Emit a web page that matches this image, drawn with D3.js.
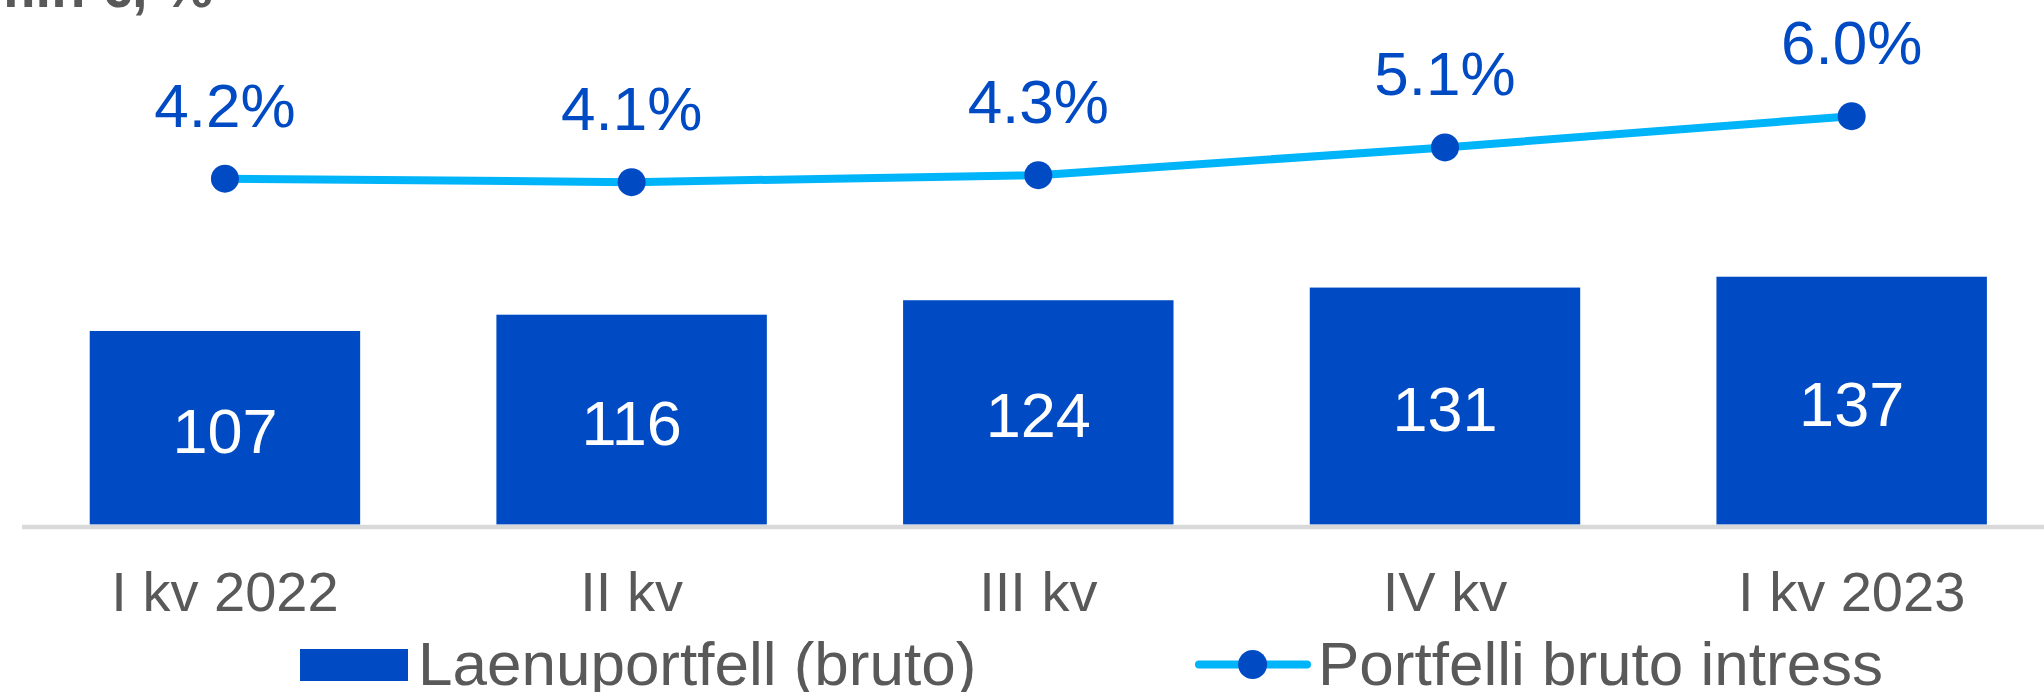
<!DOCTYPE html>
<meta charset="utf-8">

<!-- Load d3.js -->
<script src="https://d3js.org/d3.v7.min.js"></script>

<style>
    body {
        margin: 0;
        background: white;
    }

    text {
        font-family: "Liberation Sans", Arial, sans-serif;
    }
</style>

<!-- Create a div where the graph will take place -->
<div id="my_dataviz"></div>

<script>

    // data
    var quarters = ["I kv 2022", "II kv", "III kv", "IV kv", "I kv 2023"];
    var portfolio = [107, 116, 124, 131, 137];       // Laenuportfell (bruto), mln €
    var interest = [4.2, 4.1, 4.3, 5.1, 6.0];        // Portfelli bruto intress, %
    var seriesNames = ["Laenuportfell (bruto)", "Portfelli bruto intress"];
    var unitTitle = "mln €, %";

    var barColor = "#004bc4",
        lineColor = "#00b4fa",
        greyText = "#595959";

    var width = 2044,
        height = 692;

    var svg = d3.select("#my_dataviz")
        .append("svg")
        .attr("width", width)
        .attr("height", height);

    // ---------------------------//
    //       AXIS  AND SCALE      //
    // ---------------------------//

    // X scale (the plot runs a little past the right edge of the picture)
    var x = d3.scaleBand()
        .domain(quarters)
        .range([21.6, 2055])
        .paddingInner(0.335)
        .paddingOuter(0.1675);

    // primary Y (bars)
    var y = d3.scaleLinear()
        .domain([0, 290])
        .range([524.5, 0]);

    // secondary Y (line)
    var y2 = d3.scaleLinear()
        .domain([0, 6])
        .range([324.4, 116.2]);

    // title, mostly cut off at the top
    svg.append("text")
        .attr("x", 213)
        .attr("y", 7)
        .attr("text-anchor", "end")
        .style("font-size", "56px")
        .style("font-weight", "bold")
        .style("fill", greyText)
        .text(unitTitle);

    // ---------------------------//
    //       BARS                 //
    // ---------------------------//

    svg.append("g")
        .selectAll("rect")
        .data(portfolio)
        .enter()
        .append("rect")
        .attr("x", function (d, i) { return x(quarters[i]); })
        .attr("y", function (d) { return y(d); })
        .attr("width", x.bandwidth())
        .attr("height", function (d) { return y(0) - y(d); })
        .style("fill", barColor);

    // bar labels, centred in the bar
    svg.append("g")
        .selectAll("text")
        .data(portfolio)
        .enter()
        .append("text")
        .attr("x", function (d, i) { return x(quarters[i]) + x.bandwidth() / 2; })
        .attr("y", function (d) { return (y(d) + y(0)) / 2 + 25; })
        .attr("text-anchor", "middle")
        .style("font-size", "63px")
        .style("fill", "white")
        .text(function (d) { return d; });

    // X axis
    var xAxis = svg.append("g")
        .attr("transform", "translate(0,526.5)")
        .call(d3.axisBottom(x).tickSize(0).tickPadding(45));
    xAxis.select(".domain")
        .attr("stroke", "#d9d9d9")
        .attr("stroke-width", 4.5);
    xAxis.selectAll("text")
        .style("font-size", "56px")
        .style("font-family", "'Liberation Sans', Arial, sans-serif")
        .style("fill", greyText);

    // ---------------------------//
    //       LINE                 //
    // ---------------------------//

    var line = d3.line()
        .x(function (d, i) { return x(quarters[i]) + x.bandwidth() / 2; })
        .y(function (d) { return y2(d); });

    svg.append("path")
        .datum(interest)
        .attr("d", line)
        .attr("fill", "none")
        .attr("stroke", lineColor)
        .attr("stroke-width", 8)
        .attr("stroke-linejoin", "round");

    svg.append("g")
        .selectAll("circle")
        .data(interest)
        .enter()
        .append("circle")
        .attr("cx", function (d, i) { return x(quarters[i]) + x.bandwidth() / 2; })
        .attr("cy", function (d) { return y2(d); })
        .attr("r", 14)
        .style("fill", barColor);

    svg.append("g")
        .selectAll("text")
        .data(interest)
        .enter()
        .append("text")
        .attr("x", function (d, i) { return x(quarters[i]) + x.bandwidth() / 2; })
        .attr("y", function (d) { return y2(d) - 52; })
        .attr("text-anchor", "middle")
        .style("font-size", "62px")
        .style("fill", barColor)
        .text(function (d) { return d3.format(".1f")(d) + "%"; });

    // ---------------------------//
    //       LEGEND               //
    // ---------------------------//

    svg.append("rect")
        .attr("x", 300)
        .attr("y", 649)
        .attr("width", 108)
        .attr("height", 32)
        .style("fill", barColor);

    svg.append("line")
        .attr("x1", 1199)
        .attr("x2", 1307)
        .attr("y1", 664.5)
        .attr("y2", 664.5)
        .attr("stroke", lineColor)
        .attr("stroke-width", 8)
        .attr("stroke-linecap", "round");

    svg.append("circle")
        .attr("cx", 1252.6)
        .attr("cy", 664.5)
        .attr("r", 14.5)
        .style("fill", barColor);

    svg.selectAll("legendlabels")
        .data(seriesNames)
        .enter()
        .append("text")
        .attr("x", function (d, i) { return i == 0 ? 418 : 1318; })
        .attr("y", 685)
        .style("font-size", "62px")
        .style("fill", greyText)
        .text(function (d) { return d; });

</script>
